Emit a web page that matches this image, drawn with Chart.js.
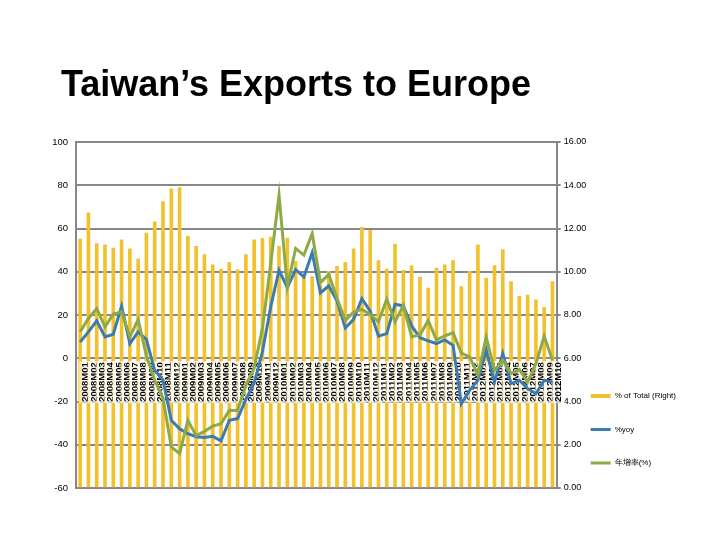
<!DOCTYPE html>
<html>
<head>
<meta charset="utf-8">
<script src="https://cdn.jsdelivr.net/npm/chart.js@4.4.1/dist/chart.umd.min.js"></script>
<style>
  body { margin: 0; background: #fff; }
  #wrap { position: relative; width: 720px; height: 540px; }
  #chart { position: absolute; left: 0; top: 0; }
  #title {
    position: absolute; left: 61px; top: 66px; margin: 0;
    font: bold 36px "Liberation Sans", Arial, sans-serif; line-height: 36px;
    color: #000; white-space: nowrap;
  }
</style>
</head>
<body>
<div id="wrap">
  <canvas id="chart" width="720" height="540"></canvas>
  <h1 id="title">Taiwan’s Exports to Europe</h1>
</div>
<script>
const months = [
  '2008M01', '2008M02', '2008M03', '2008M04', '2008M05', '2008M06', '2008M07', '2008M08', '2008M09', '2008M10', '2008M11', '2008M12',
  '2009M01', '2009M02', '2009M03', '2009M04', '2009M05', '2009M06', '2009M07', '2009M08', '2009M09', '2009M10', '2009M11', '2009M12',
  '2010M01', '2010M02', '2010M03', '2010M04', '2010M05', '2010M06', '2010M07', '2010M08', '2010M09', '2010M10', '2010M11', '2010M12',
  '2011M01', '2011M02', '2011M03', '2011M04', '2011M05', '2011M06', '2011M07', '2011M08', '2011M09', '2011M10', '2011M11', '2011M12',
  '2012M01', '2012M02', '2012M03', '2012M04', '2012M05', '2012M06', '2012M07', '2012M08', '2012M09', '2012M10'
];

// share of total exports, right axis
const shareOfTotal = [
  11.51, 12.72, 11.30, 11.25, 11.10, 11.48, 11.06, 10.59, 11.79, 12.31, 13.24, 13.84,
  13.89, 11.64, 11.17, 10.79, 10.32, 10.12, 10.43, 10.09, 10.79, 11.48, 11.54, 11.60,
  11.17, 11.56, 10.48, 9.78, 9.78, 9.40, 10.02, 10.25, 10.43, 11.06, 12.05, 11.91,
  10.52, 10.12, 11.28, 10.06, 10.28, 9.75, 9.24, 10.17, 10.32, 10.52, 9.32, 10.02,
  11.25, 9.71, 10.29, 11.02, 9.55, 8.86, 8.92, 8.70, 8.35, 9.55
];

// left axis
const yoy = [
  7.5, 12.2, 17.3, 9.9, 11.1, 24.1, 6.8, 12.2, 8.6, -5.7, -10, -28.7,
  -32.6, -34.9, -36.3, -36.6, -36.1, -38.2, -28.7, -27.9, -19, -11.5, 3, 23.8,
  40.7, 32.7, 41, 37.6, 48.8, 30.2, 33.5, 26.5, 14, 18, 27.5, 21.8,
  10.2, 11.4, 25, 24.2, 15, 9.5, 8, 6.8, 8.5, 6, -21, -14.8,
  -10.2, 3.7, -11, 2.2, -11.7, -10.2, -14, -16.4, -10.2, -11
];

const growthRate = [
  12.2, 18.4, 23, 14.5, 20.4, 21.5, 9.9, 17.9, 1, -10.2, -18.5, -41,
  -44.1, -28.7, -35.8, -33.8, -31.4, -30.3, -24.1, -24.2, -12.5, -4.5, 14, 43.8,
  75.5, 33, 50.8, 47.7, 57.7, 35, 38.8, 27.6, 17.5, 21.4, 22.6, 20.3,
  16.8, 27.4, 16.8, 24.5, 10, 10.8, 17.4, 8.5, 10.4, 11.8, 2.4, 0.6,
  -7.9, 9.9, -5.6, -0.9, -7.1, -5.2, -11, -2.5, 10.2, -0.9
];

const colors = {
    share: '#f2c12e',
    yoy: '#3c7bb0',
    growth: '#8eaa46',
    grid: '#878787',
};
const legendColors = [colors.share, colors.yoy, colors.growth];

const fontFamily = '"Liberation Sans", Arial, sans-serif';

// month labels go over the bars but under the lines
const labelsOverBars = {
    id: 'labelsOverBars',
    afterDatasetDraw(chart, args) {
        if (args.index === 0) {
            chart.scales.x.drawLabels(chart.chartArea);
        }
    }
};

// legend sits a little lower and tucked against the right axis labels
const legendNudge = {
    id: 'legendNudge',
    afterLayout(chart) {
        const legend = chart.legend;
        const dx = chart.chartArea.right + 8.5 - legend.left;
        legend.left += dx;
        legend.right += dx;
        legend.top += 4.5;
        legend.bottom += 4.5;
    }
};

new Chart(document.getElementById('chart'), {
    type: 'bar',
    data: {
        labels: months,
        datasets: [
            {
                type: 'bar',
                label: '% of Total (Right)',
                data: shareOfTotal,
                yAxisID: 'y1',
                backgroundColor: colors.share,
                borderWidth: 0,
                barThickness: 3,
                order: 10,
            },
            {
                type: 'line',
                label: '%yoy',
                data: yoy,
                yAxisID: 'y',
                borderColor: colors.yoy,
                backgroundColor: colors.yoy,
                borderWidth: 3,
                pointRadius: 0,
                tension: 0,
                order: 2,
            },
            {
                type: 'line',
                label: '年增率(%)',
                data: growthRate,
                yAxisID: 'y',
                borderColor: colors.growth,
                backgroundColor: colors.growth,
                borderWidth: 3,
                pointRadius: 0,
                tension: 0,
                order: 1,
            }
        ]
    },
    options: {
        responsive: false,
        animation: false,
        devicePixelRatio: 1,
        layout: {
            padding: { top: 142, bottom: 52, left: 50, right: 8.5 }
        },
        scales: {
            x: {
                display: false,
                position: { y: 0 },
                grid: { display: false, drawTicks: false },
                ticks: {
                    autoSkip: false,
                    minRotation: 90,
                    maxRotation: 90,
                    padding: 4,
                    color: '#000',
                    font: { family: fontFamily, size: 9.5, weight: 'bold' },
                    showLabelBackdrop: true,
                    backdropColor: 'rgba(255,255,255,0.6)',
                    backdropPadding: 1,
                }
            },
            y: {
                position: 'left',
                min: -60,
                max: 100,
                ticks: {
                    stepSize: 20,
                    padding: 8,
                    color: '#000',
                    font: { family: fontFamily, size: 9.5 },
                },
                grid: { color: colors.grid, lineWidth: 2, drawTicks: false },
                border: { color: colors.grid, width: 2 },
                afterFit: scale => { scale.width = 26; },
            },
            y1: {
                position: 'right',
                min: 0,
                max: 16,
                ticks: {
                    stepSize: 2,
                    padding: 3,
                    color: '#000',
                    font: { family: fontFamily, size: 9 },
                    callback: value => value.toFixed(2),
                },
                grid: { drawOnChartArea: false, color: colors.grid, lineWidth: 2, tickLength: 4 },
                border: { color: colors.grid, width: 2 },
                afterFit: scale => { scale.width = 34; },
            }
        },
        plugins: {
            legend: {
                position: 'right',
                align: 'end',
                maxWidth: 200,
                labels: {
                    usePointStyle: true,
                    pointStyleWidth: 20,
                    padding: 25.5,
                    color: '#000',
                    font: { family: fontFamily, size: 8 },
                    sort: (a, b) => a.datasetIndex - b.datasetIndex,
                    generateLabels: chart => {
                        const items = Chart.defaults.plugins.legend.labels.generateLabels(chart);
                        return items.map(item => Object.assign(item, {
                            pointStyle: 'line',
                            strokeStyle: legendColors[item.datasetIndex],
                            fillStyle: legendColors[item.datasetIndex],
                            lineWidth: item.datasetIndex === 0 ? 4 : 3,
                        }));
                    }
                }
            },
            tooltip: { enabled: false }
        }
    },
    plugins: [labelsOverBars, legendNudge]
});
</script>
</body>
</html>
